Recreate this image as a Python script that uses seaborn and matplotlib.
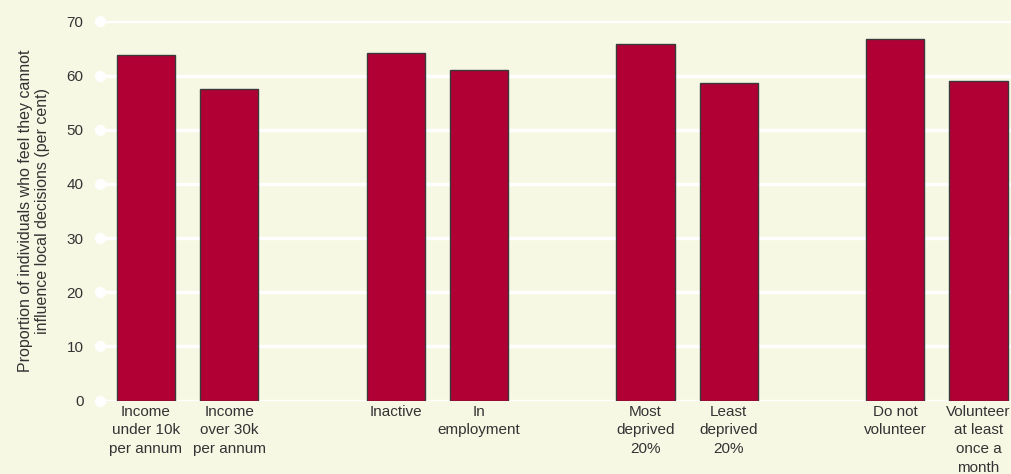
import numpy as np
import pandas as pd
import seaborn as sns
import matplotlib.pyplot as plt

# bar positions: pairs separated by an empty slot
posiciones = [0, 1, 3, 4, 6, 7, 9, 10]
etiquetas = ["Income\nunder 10k\nper annum", "Income\nover 30k\nper annum",
             "Inactive", "In\nemployment",
             "Most\ndeprived\n20%", "Least\ndeprived\n20%",
             "Do not\nvolunteer", "Volunteer\nat least\nonce a\nmonth"]
valores = [63.7, 57.6, 64.1, 61.1, 65.8, 58.7, 66.7, 59.0]
yticks = [0, 10, 20, 30, 40, 50, 60, 70]

fondo = "#f7f8e4"
sns.set_theme(style="white")
plt.rcParams["font.family"] = ["Liberation Sans", "DejaVu Sans"]

df = pd.DataFrame({"pos": posiciones, "valor": valores})

fig = plt.figure(figsize=(10.11, 4.74), dpi=100, facecolor=fondo)
ax = fig.add_axes([0.099, 0.155, 0.901, 0.8])
ax.set_facecolor(fondo)

for t in yticks:
    ax.axhline(t, color="white", lw=2.4, zorder=0)
ax.plot([0] * len(yticks), yticks, "o", color="white", ms=7,
        transform=ax.get_yaxis_transform(), clip_on=False, zorder=1)

sns.barplot(data=df, x="pos", y="valor", native_scale=True, width=0.7,
            color="#b10034", saturation=1, edgecolor="#3a3a3a",
            linewidth=1.0, ax=ax, zorder=2)

ax.set_xlim(-0.55, 10.39)
ax.set_ylim(0, 70)
ax.set_yticks(yticks)
ax.set_xticks(posiciones)
ax.set_xticklabels(etiquetas, linespacing=1.42)
ax.tick_params(axis="x", length=0, pad=3, labelsize=11, colors="#333333")
ax.tick_params(axis="y", length=0, pad=12, labelsize=11, colors="#333333")
for s in ax.spines.values():
    s.set_visible(False)
ax.set_xlabel("")
ax.set_ylabel("Proportion of individuals who feel they cannot\ninfluence local decisions (per cent)",
              fontsize=11.5, color="#333333", labelpad=12, linespacing=1.15)

fig.savefig("out.png", dpi=100, facecolor=fondo)
